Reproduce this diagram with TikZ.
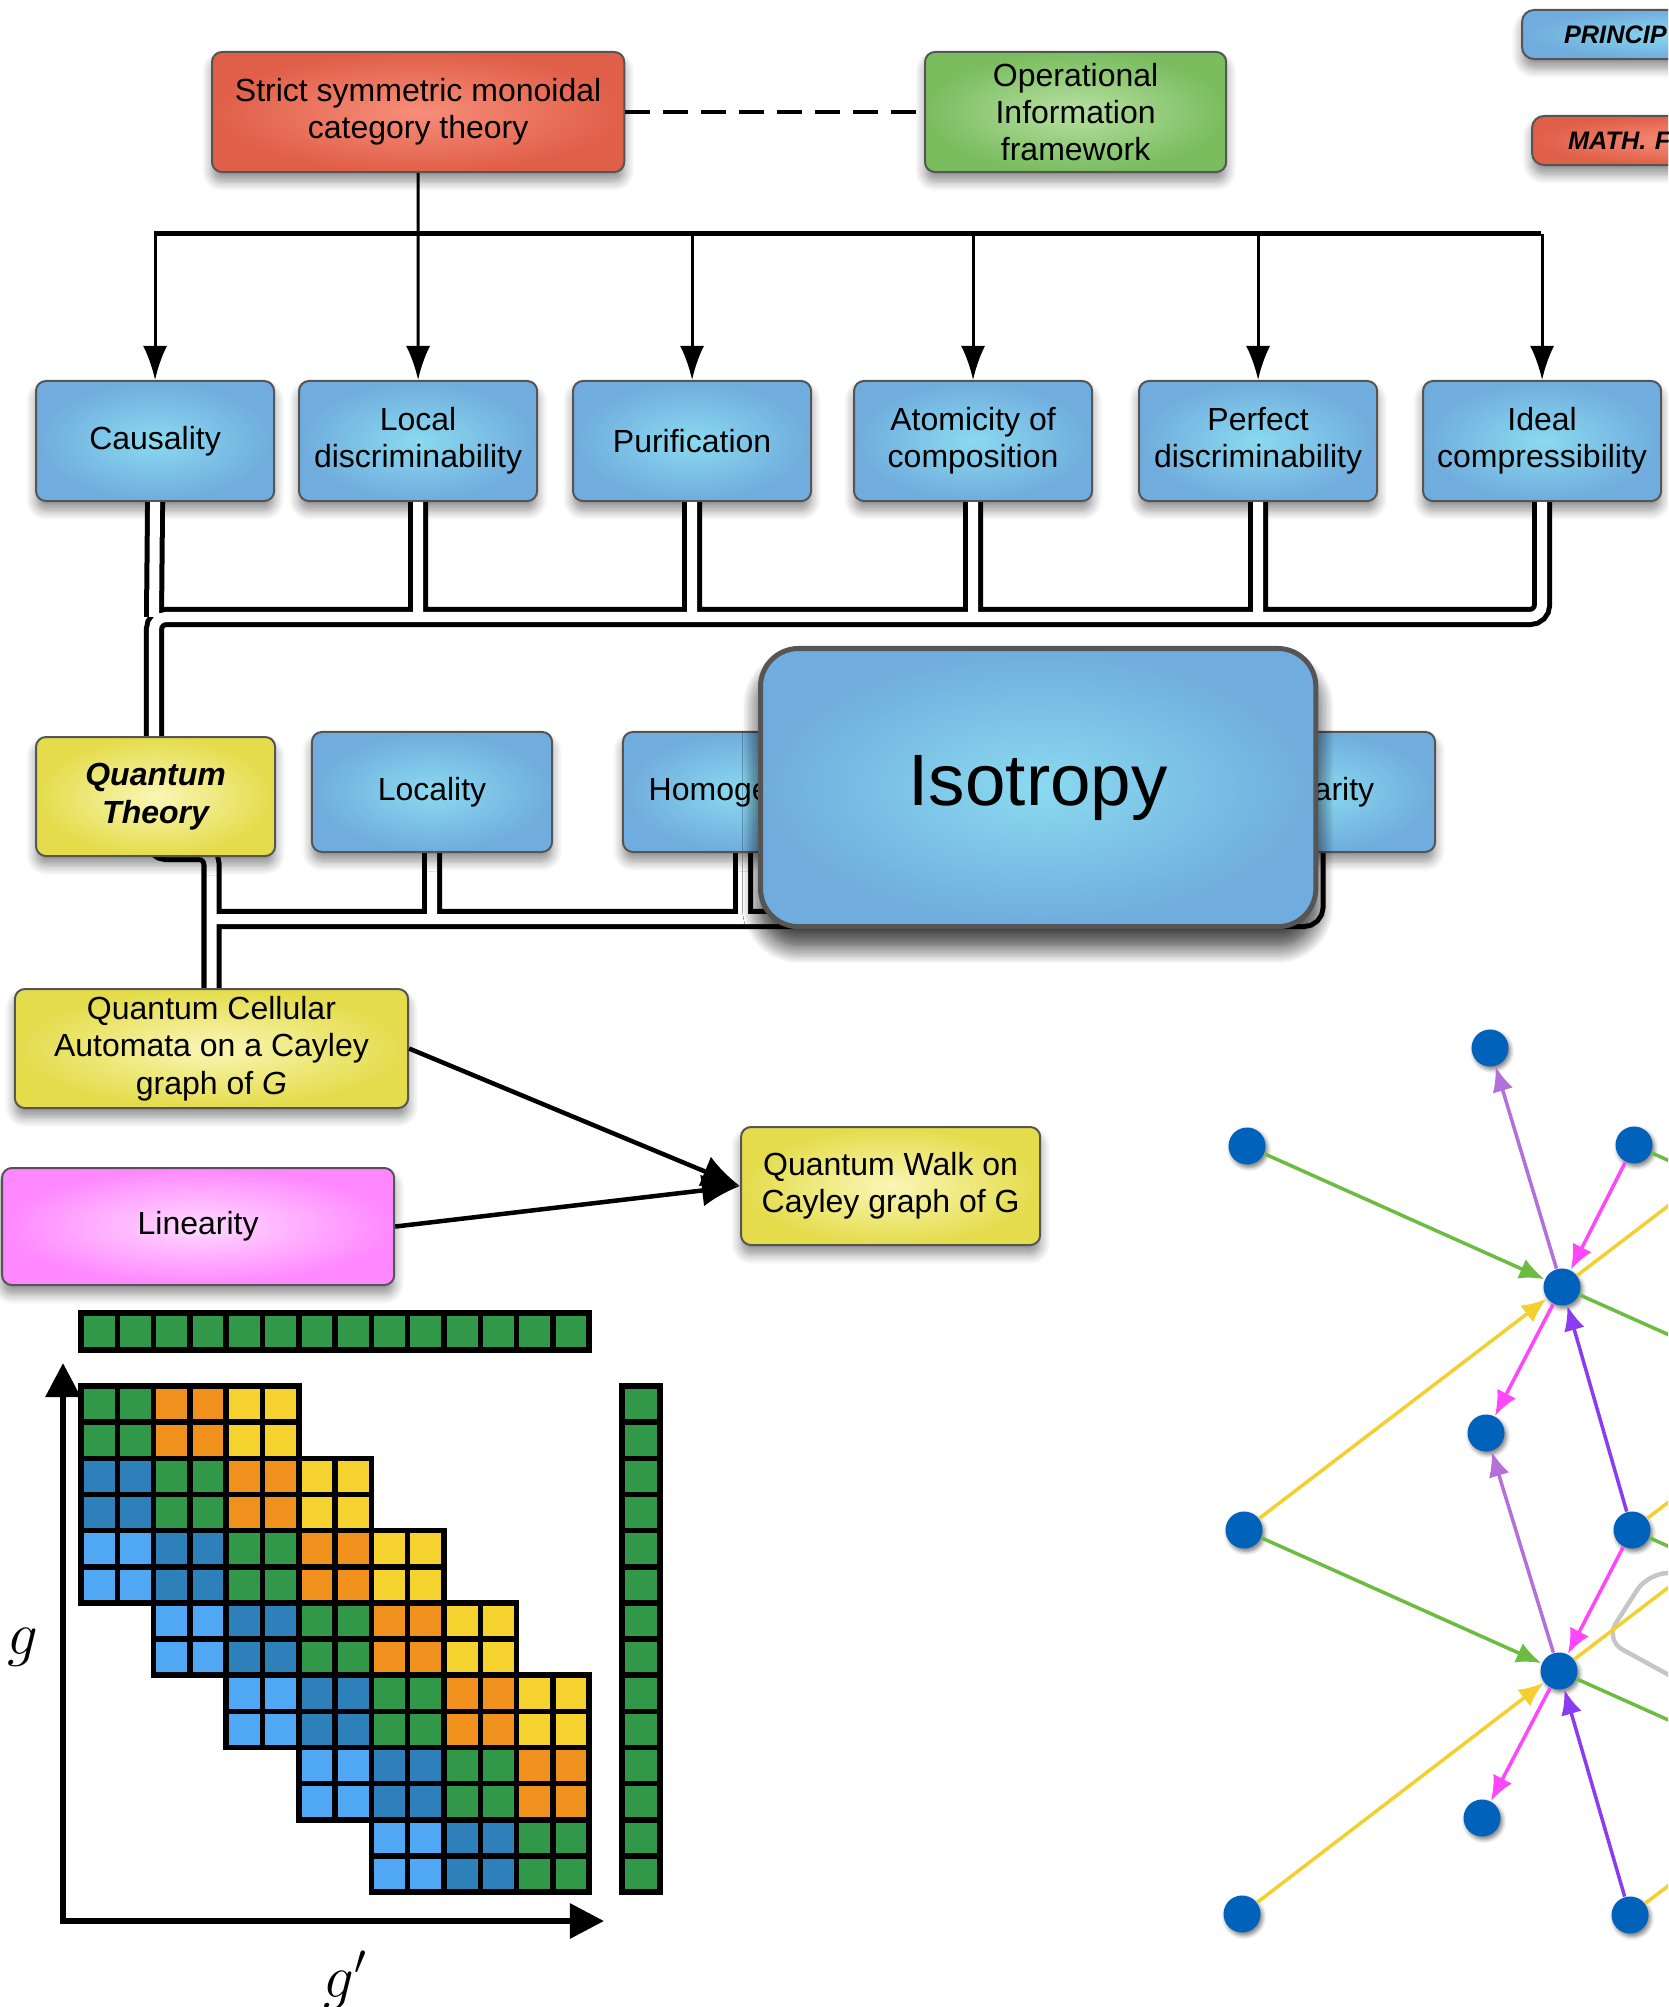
\documentclass[tikz,border=0pt]{standalone}
\usepackage{fontspec}
\setmainfont{Liberation Sans}
\usepackage{tikz}
\usetikzlibrary{calc}
\usetikzlibrary{arrows.meta}
\usetikzlibrary{shadows.blur}

\definecolor{bluein}{RGB}{138,218,240}
\definecolor{blueout}{RGB}{112,172,221}
\definecolor{redin}{RGB}{247,142,122}
\definecolor{redout}{RGB}{224,95,72}
\definecolor{greenin}{RGB}{184,224,162}
\definecolor{greenout}{RGB}{122,189,95}
\definecolor{yellowin}{RGB}{250,246,182}
\definecolor{yellowout}{RGB}{228,220,75}
\definecolor{pinkin}{RGB}{255,218,255}
\definecolor{pinkout}{RGB}{255,135,255}
\definecolor{boxline}{RGB}{85,85,85}
\definecolor{mgr}{RGB}{48,152,72}
\definecolor{mor}{RGB}{240,145,30}
\definecolor{mye}{RGB}{245,210,45}
\definecolor{msb}{RGB}{45,128,185}
\definecolor{mlb}{RGB}{80,168,245}
\definecolor{vertcol}{RGB}{0,98,187}
\definecolor{egr}{RGB}{108,188,66}
\definecolor{eye}{RGB}{243,208,45}
\definecolor{epu}{RGB}{180,112,218}
\definecolor{evi}{RGB}{140,60,240}
\definecolor{ema}{RGB}{255,70,250}

\newcommand{\boxfont}{\fontsize{9.1}{10.6}\selectfont}

\tikzset{
  box/.style={rectangle, rounded corners=0.1cm, draw=boxline, line width=0.02cm, align=center, inner sep=0pt, anchor=north west, font=\boxfont,
    blur shadow={shadow xshift=0cm, shadow yshift=-0.09cm, shadow blur radius=0.1cm, shadow blur steps=8, shadow opacity=45}},
  bluebox/.style={box, inner color=bluein, outer color=blueout},
  redbox/.style={box, inner color=redin, outer color=redout},
  greenbox/.style={box, inner color=greenin, outer color=greenout},
  yellowbox/.style={box, inner color=yellowin, outer color=yellowout},
  pinkbox/.style={box, inner color=pinkin, outer color=pinkout},
  legendbox/.style={box, rounded corners=0.12cm, align=left, text width=2.4cm, inner ysep=0pt, font=\fontsize{7.2}{8.5}\selectfont\bfseries\itshape},
  isobox/.style={box, inner color=bluein, outer color=blueout, rounded corners=0.38cm, line width=0.05cm, font=\fontsize{20.7}{24}\selectfont,
    blur shadow={shadow xshift=0cm, shadow yshift=-0.19cm, shadow blur radius=0.18cm, shadow blur steps=14, shadow opacity=50}},
  arr/.style={line width=0.03cm, -{Latex[length=0.34cm, width=0.24cm]}},
  bus/.style={line width=0.05cm},
  dashline/.style={line width=0.045cm, dash pattern=on 0.25cm off 0.13cm},
  dbl/.style={draw=black, line width=0.05cm, double=white, double distance=0.1cm},
  bigarr/.style={line width=0.045cm, -{Latex[length=0.38cm, width=0.32cm]}},
  cell/.style={draw=black, line width=0.055cm},
  axisline/.style={line width=0.06cm, {Triangle[length=0.34cm, width=0.34cm]}-{Triangle[length=0.34cm, width=0.34cm]}},
  vert/.style={circle, fill=vertcol, minimum size=0.37cm, inner sep=0pt,
    blur shadow={shadow xshift=0.02cm, shadow yshift=-0.03cm, shadow blur radius=0.04cm, shadow opacity=50}},
  gedge/.style={line width=0.035cm, -{Latex[length=0.25cm, width=0.21cm]}}
}

\begin{document}
\begin{tikzpicture}[x=0.01cm, y=-0.01cm]
\useasboundingbox (0,0) rectangle (1668,2007);
\clip (0,0) rectangle (1668,2007);

\node at (211,51) [redbox, minimum width=4.12cm, minimum height=1.2cm] (stmc) {Strict symmetric monoidal\\category theory};
\node at (924,51) [greenbox, minimum width=3.01cm, minimum height=1.2cm] (oif) {Operational\\Information\\framework};
\node at (1521,9) [legendbox, inner color=bluein, outer color=blueout, inner xsep=0.42cm, minimum height=0.49cm] (legprin) {PRINCIP};
\node at (1531,115) [legendbox, inner color=redin, outer color=redout, inner xsep=0.36cm, minimum height=0.49cm] (legmath) {MATH. F};

\node at (35,380) [bluebox, minimum width=2.38cm, minimum height=1.2cm] (caus) {Causality};
\node at (298,380) [bluebox, minimum width=2.38cm, minimum height=1.2cm] (ldis) {Local\\discriminability};
\node at (572,380) [bluebox, minimum width=2.38cm, minimum height=1.2cm] (purif) {Purification};
\node at (853,380) [bluebox, minimum width=2.38cm, minimum height=1.2cm] (atom) {Atomicity of\\composition};
\node at (1138,380) [bluebox, minimum width=2.38cm, minimum height=1.2cm] (pdis) {Perfect\\discriminability};
\node at (1422,380) [bluebox, minimum width=2.38cm, minimum height=1.2cm] (icomp) {Ideal\\compressibility};

\coordinate (tbL) at (154,234);
\coordinate (tbR) at (1541,234);
\draw[bus] (tbL) -- (tbR);
\draw[arr] (stmc.south) -- (ldis.north);
\foreach \n in {caus,purif,atom,pdis,icomp} \draw[arr] (\n.north |- tbL) -- (\n.north);
\draw[dashline] (stmc.east) -- (oif.west);

\coordinate (dbA) at (154,617);
\coordinate (dbB) at (154,852);
\coordinate (dbC) at (211.5,852);
\coordinate (dbD) at (211.5,919);
\coordinate (locS) at (432,853);
\coordinate (homS) at (743,853);
\coordinate (unitS) at (1315.5,853);
\coordinate (qcaN) at (211.5,988);
\draw[dbl, rounded corners=0.12cm] (icomp.south) |- (dbA) -- (dbB) -- (dbC) -- (qcaN)
  (caus.south) -- (dbA)
  (ldis.south) -- (ldis.south |- dbA)
  (purif.south) -- (purif.south |- dbA)
  (atom.south) -- (atom.south |- dbA)
  (pdis.south) -- (pdis.south |- dbA)
  (unitS) |- (dbD)
  (locS) -- (locS |- dbD)
  (homS) -- (homS |- dbD);

\node at (35,736) [yellowbox, minimum width=2.39cm, minimum height=1.19cm, font=\boxfont\bfseries\itshape] (qt) {Quantum\\Theory};
\node at (locS) [bluebox, anchor=south, minimum width=2.4cm, minimum height=1.2cm] (loc) {Locality};
\node at (homS) [bluebox, anchor=south, minimum width=2.4cm, minimum height=1.2cm] (homog) {Homogeneity};
\node at (unitS) [bluebox, anchor=south, minimum width=2.39cm, minimum height=1.2cm] (unit) {Unitarity};
\node at (758,646) [isobox, minimum width=5.55cm, minimum height=2.78cm] (iso) {Isotropy};

\node at (qcaN) [yellowbox, anchor=north, minimum width=3.93cm, minimum height=1.19cm] (qca) {Quantum Cellular\\Automata on a Cayley\\graph of \textit{G}};
\node at (1,1167) [pinkbox, minimum width=3.92cm, minimum height=1.17cm] (lin) {Linearity};
\node at (740,1126) [yellowbox, minimum width=2.99cm, minimum height=1.18cm] (qw) {Quantum Walk on\\Cayley graph of G};

\draw[bigarr] (qca.east) -- (qw.west);
\draw[bigarr] (lin.east) -- (qw.west);

\foreach \k in {0,...,13} \draw[cell, fill=mgr] (81+36.3*\k,1313) rectangle ++(36.3,37);
\foreach \k in {0,...,13} \draw[cell, fill=mgr] (622,1386+36.15*\k) rectangle ++(38,36.15);
\foreach \i in {0,...,6}{
  \foreach \d/\c in {-2/mlb,-1/msb,0/mgr,1/mor,2/mye}{
    \pgfmathtruncatemacro\j{\i+\d}
    \ifnum\j>-1 \ifnum\j<7
      \foreach \r in {0,1}{
        \foreach \s in {0,1}{
          \draw[cell, fill=\c] (81+72.6*\j+36.3*\s,1386+72.3*\i+36.15*\r) rectangle ++(36.3,36.15);
        }
      }
    \fi\fi
  }
}
\coordinate (axtop) at (63,1363);
\coordinate (axorig) at (63,1921);
\coordinate (axright) at (604,1921);
\draw[axisline] (axtop) -- (axorig) -- (axright);
\node at (23,1654) [anchor=base, font=\fontsize{17}{20}\selectfont] (labg) {$g$};
\node at (346,1997) [anchor=base, font=\fontsize{17}{20}\selectfont] (labgp) {$g'$};

\draw[gray!45, line width=0.045cm, rounded corners=0.2cm] (1700,1573) -- (1648,1573) -- (1605,1640) -- (1700,1692);

\node at (1490,1048) [vert] (vA) {};
\node at (1247,1146) [vert] (vB) {};
\node at (1634,1145) [vert] (vC) {};
\node at (1562,1287) [vert] (vD) {};
\node at (1486,1433) [vert] (vE) {};
\node at (1244,1530) [vert] (vF) {};
\node at (1632,1530) [vert] (vG) {};
\node at (1559,1671) [vert] (vH) {};
\node at (1482,1818) [vert] (vI) {};
\node at (1242,1914) [vert] (vJ) {};
\node at (1630,1915) [vert] (vK) {};
\coordinate (oC) at (1949,1286);
\coordinate (oDg) at (1877,1428);
\coordinate (oDy) at (1880,1044);
\coordinate (oGg) at (1947,1671);
\coordinate (oGy) at (1950,1287);
\coordinate (oHg) at (1874,1812);
\coordinate (oHy) at (1877,1428);
\coordinate (oKy) at (1948,1672);

\draw[gedge, egr] (vB) -- (vD);
\draw[gedge, egr] (vF) -- (vH);
\draw[gedge, egr] (vD) -- (oDg);
\draw[gedge, egr] (vH) -- (oHg);
\draw[gedge, egr] (vC) -- (oC);
\draw[gedge, egr] (vG) -- (oGg);
\draw[gedge, eye] (vF) -- (vD);
\draw[gedge, eye] (vJ) -- (vH);
\draw[gedge, eye] (vD) -- (oDy);
\draw[gedge, eye] (vH) -- (oHy);
\draw[gedge, eye] (vG) -- (oGy);
\draw[gedge, eye] (vK) -- (oKy);
\draw[gedge, epu] (vD) -- (vA);
\draw[gedge, epu] (vH) -- (vE);
\draw[gedge, evi] (vG) -- (vD);
\draw[gedge, evi] (vK) -- (vH);
\draw[gedge, ema] (vC) -- (vD);
\draw[gedge, ema] (vD) -- (vE);
\draw[gedge, ema] (vG) -- (vH);
\draw[gedge, ema] (vH) -- (vI);

\end{tikzpicture}
\end{document}
